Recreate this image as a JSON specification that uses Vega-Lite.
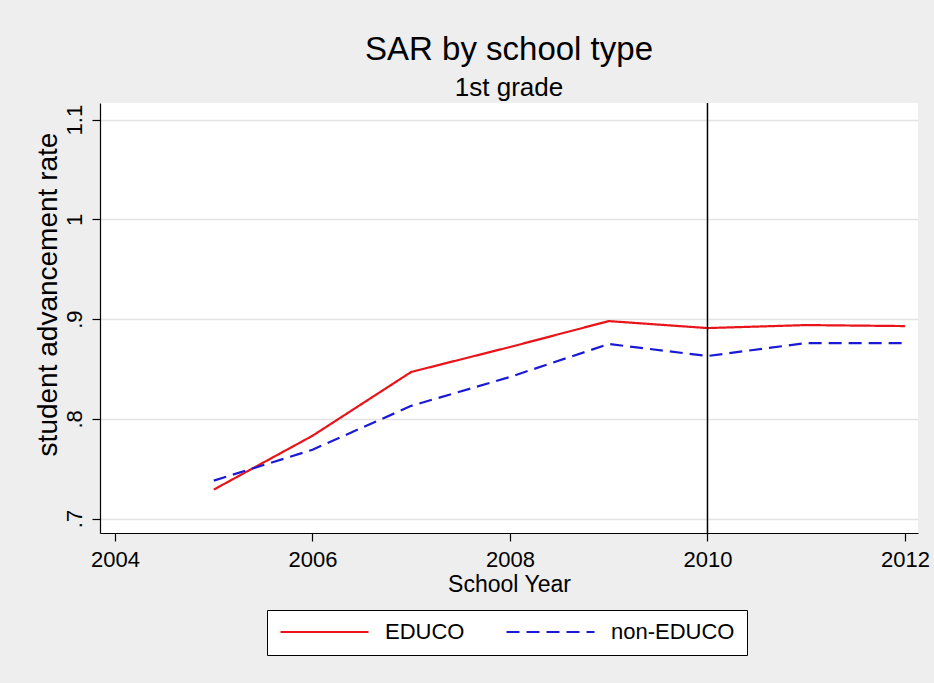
{
  "$schema": "https://vega.github.io/schema/vega-lite/v6.json",
  "width": 818,
  "height": 430,
  "autosize": {"type": "none"},
  "padding": {"left": 100, "top": 103, "right": 16, "bottom": 150},
  "background": "#eeeeee",
  "title": {
    "text": "SAR by school type",
    "subtitle": "1st grade",
    "anchor": "middle",
    "frame": "group",
    "fontSize": 33,
    "fontWeight": "normal",
    "color": "#000000",
    "subtitleFontSize": 26,
    "subtitleColor": "#000000",
    "subtitlePadding": 8,
    "offset": 1
  },
  "config": {
    "font": "Liberation Sans",
    "view": {"fill": "#ffffff", "stroke": null},
    "axis": {
      "domainColor": "#000000",
      "domainWidth": 1.2,
      "tickColor": "#000000",
      "tickWidth": 1.2,
      "tickSize": 8,
      "labelColor": "#000000",
      "titleColor": "#000000",
      "labelFont": "Liberation Sans",
      "titleFont": "Liberation Sans",
      "titleFontWeight": "normal",
      "labelFontSize": 22,
      "titleFontSize": 24
    }
  },
  "datasets": {
    "sar": [
      {"year": 2005, "type": "EDUCO", "rate": 0.729},
      {"year": 2006, "type": "EDUCO", "rate": 0.783},
      {"year": 2007, "type": "EDUCO", "rate": 0.847},
      {"year": 2008, "type": "EDUCO", "rate": 0.872},
      {"year": 2009, "type": "EDUCO", "rate": 0.898},
      {"year": 2010, "type": "EDUCO", "rate": 0.891},
      {"year": 2011, "type": "EDUCO", "rate": 0.894},
      {"year": 2012, "type": "EDUCO", "rate": 0.893},
      {"year": 2005, "type": "non-EDUCO", "rate": 0.738},
      {"year": 2006, "type": "non-EDUCO", "rate": 0.769},
      {"year": 2007, "type": "non-EDUCO", "rate": 0.813},
      {"year": 2008, "type": "non-EDUCO", "rate": 0.842},
      {"year": 2009, "type": "non-EDUCO", "rate": 0.875},
      {"year": 2010, "type": "non-EDUCO", "rate": 0.863},
      {"year": 2011, "type": "non-EDUCO", "rate": 0.876},
      {"year": 2012, "type": "non-EDUCO", "rate": 0.876}
    ],
    "cutoff": [{"year": 2010}]
  },
  "layer": [
    {
      "data": {"name": "sar"},
      "mark": {"type": "line", "strokeWidth": 2.2},
      "encoding": {
        "x": {
          "field": "year",
          "type": "quantitative",
          "scale": {"domain": [2003.848, 2012.132], "nice": false, "zero": false},
          "axis": {
            "title": "School Year",
            "titleFontSize": 23,
            "values": [2004, 2006, 2008, 2010, 2012],
            "format": "d",
            "grid": false,
            "labelPadding": 8,
            "titleY": 40,
            "titleBaseline": "top",
            "labelFlush": false
          }
        },
        "y": {
          "field": "rate",
          "type": "quantitative",
          "scale": {"domain": [0.6855, 1.1167], "nice": false, "zero": false},
          "axis": {
            "title": "student advancement rate",
            "titleFontSize": 28,
            "titleX": -38,
            "titleY": 191,
            "titleAngle": -90,
            "titleAlign": "center",
            "titleBaseline": "bottom",
            "values": [0.7, 0.8, 0.9, 1, 1.1],
            "labelExpr": "datum.value === 1 ? '1' : replace(format(datum.value, '.1f'), /^0/, '')",
            "labelAngle": -90,
            "labelAlign": "center",
            "labelBaseline": "bottom",
            "labelPadding": 6,
            "grid": true,
            "gridColor": "#e3e3e3",
            "gridWidth": 1.6
          }
        },
        "color": {
          "field": "type",
          "type": "nominal",
          "scale": {"domain": ["EDUCO", "non-EDUCO"], "range": ["#e8141a", "#1a1ad6"]},
          "legend": {
            "title": null,
            "orient": "none",
            "legendX": 167,
            "legendY": 507,
            "direction": "horizontal",
            "symbolType": "stroke",
            "symbolSize": 7744,
            "symbolStrokeWidth": 2.2,
            "clipHeight": 20,
            "labelFontSize": 22,
            "labelColor": "#000000",
            "labelOffset": 15,
            "columnPadding": 40,
            "padding": 12,
            "strokeColor": "#000000",
            "fillColor": "#ffffff"
          }
        },
        "strokeDash": {
          "field": "type",
          "type": "nominal",
          "scale": {"domain": ["EDUCO", "non-EDUCO"], "range": [[1, 0], [13, 7]]},
          "legend": null
        }
      }
    },
    {
      "data": {"name": "cutoff"},
      "mark": {"type": "rule", "color": "#000000", "strokeWidth": 1.5},
      "encoding": {
        "x": {"field": "year", "type": "quantitative"}
      }
    }
  ]
}
